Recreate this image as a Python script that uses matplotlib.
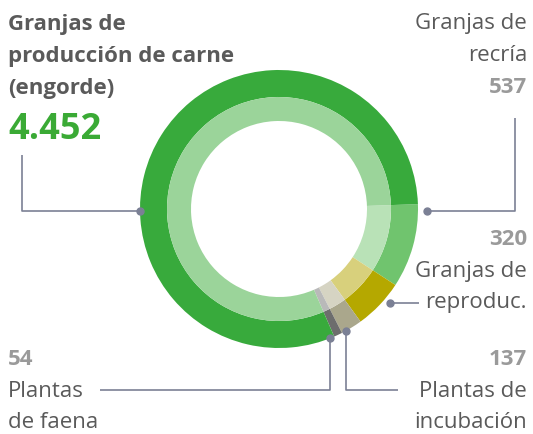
import matplotlib.pyplot as plt

# data
categories = ["Granjas de recría", "Granjas de reproduc.", "Plantas de incubación",
              "Plantas de faena", "Granjas de producción de carne (engorde)"]
values = [537, 320, 137, 54, 4452]
outer_colors = ["#70c46e", "#b5a800", "#aaa78c", "#6d6d6d", "#38aa3c"]
inner_colors = ["#b9e2b7", "#d8d07c", "#d6d4c3", "#b9b9b9", "#9bd49a"]

W, H = 533, 434
TXT = "#5a5a5a"
NUM = "#9a9a9a"
LINE = "#7b8095"
plt.rcParams["font.family"] = ["Open Sans", "DejaVu Sans"]

fig = plt.figure(figsize=(W / 100, H / 100), dpi=100)
ax = fig.add_axes([0, 0, 1, 1])

cx, cy = 279, H - 209
ax.pie(values, radius=139, center=(cx, cy), startangle=2, counterclock=False,
       colors=outer_colors, wedgeprops=dict(width=27, edgecolor="none"))
ax.pie(values, radius=112, center=(cx, cy), startangle=2, counterclock=False,
       colors=inner_colors, wedgeprops=dict(width=24, edgecolor="none"))
ax.set_xlim(0, W)
ax.set_ylim(0, H)
ax.set_aspect("equal")
ax.axis("off")


def Y(y):
    return H - y


def leader(pts):
    xs = [p[0] for p in pts]
    ys = [Y(p[1]) for p in pts]
    ax.plot(xs, ys, color=LINE, lw=1.2, solid_capstyle="butt")
    ax.plot(xs[0], ys[0], "o", color=LINE, ms=5)


def lines(x, y0, texts, ha, step=32, **kw):
    for i, t in enumerate(texts):
        ax.text(x, Y(y0 + i * step), t, ha=ha, va="baseline", **kw)


# leader lines
leader([(140, 211), (22, 211), (22, 155)])
leader([(427, 211), (515, 211), (515, 118)])
leader([(390, 303), (419, 303)])
leader([(346, 331), (346, 390), (398, 390)])
leader([(330, 338), (330, 390), (100, 390)])

fs = 16
# big label
lines(8, 30, ["Granjas de", "producción de carne", "(engorde)"], "left",
      fontsize=fs, fontweight="bold", color=TXT)
ax.text(8, Y(139), f"{values[4]:,}".replace(",", "."), fontsize=26,
        fontweight="bold", color="#3aaa35", va="baseline", ha="left")

# recría
lines(527, 29, ["Granjas de", "recría"], "right", fontsize=fs, color=TXT)
lines(527, 93, [str(values[0])], "right", fontsize=fs, color=NUM, fontweight="bold")

# reproduc
lines(527, 245, [str(values[1])], "right", fontsize=fs, color=NUM, fontweight="bold")
lines(527, 277, ["Granjas de", "reproduc."], "right", step=31, fontsize=fs, color=TXT)

# incubación
lines(527, 365, [str(values[2])], "right", fontsize=fs, color=NUM, fontweight="bold")
lines(527, 397, ["Plantas de", "incubación"], "right", step=31, fontsize=fs, color=TXT)

# faena
lines(8, 365, [str(values[3])], "left", fontsize=fs, color=NUM, fontweight="bold")
lines(8, 397, ["Plantas", "de faena"], "left", step=31, fontsize=fs, color=TXT)

fig.savefig("out.png", dpi=100)
